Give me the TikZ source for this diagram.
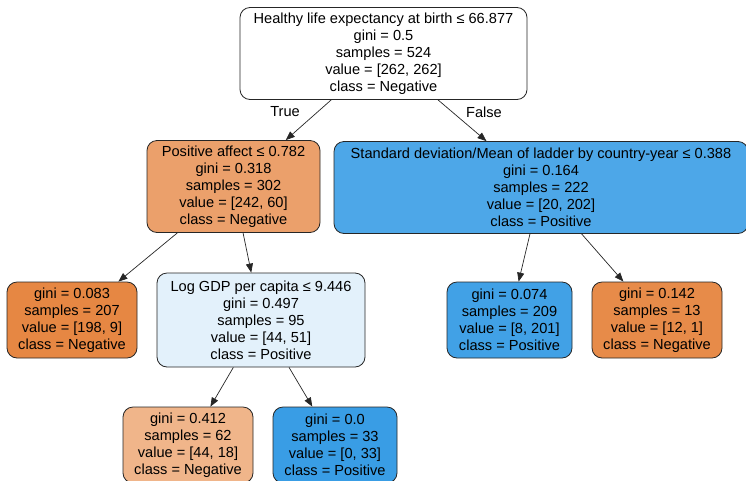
\documentclass[tikz,border=0pt]{standalone}
\usepackage{fontspec}
\setmainfont{Liberation Sans}
\usetikzlibrary{arrows.meta, positioning}

\definecolor{negclass}{RGB}{229,129,57}
\definecolor{posclass}{RGB}{57,157,229}

\begin{document}
\begin{tikzpicture}[
    x=1pt, y=-1pt,
    >={Triangle[length=9pt, width=7pt]},
    treenode/.style={rectangle, rounded corners=10pt, draw=black!85, line width=0.8pt, align=center, inner sep=0pt, font=\fontsize{14.6}{17}\selectfont},
    split/.style={treenode, minimum height=92pt},
    leaf/.style={treenode, minimum height=76pt},
    arrow/.style={->, line width=0.7pt, draw=black!85},
    branch/.style={font=\fontsize{14.6}{17}\selectfont}
]

\useasboundingbox (0,0) rectangle (746,480);
\clip (0,0) rectangle (746,480);

% ==================== Root ====================
\node[split, minimum width=287pt, fill=white] (Root) at (383.5,53.5) {Healthy life expectancy at birth ≤ 66.877\\gini = 0.5\\samples = 524\\value = [262, 262]\\class = Negative};

% ==================== Depth 1 ====================
\node[split, minimum width=173pt, fill=negclass!75!white] (PosAffect) at (233.5,186.5) {Positive affect ≤ 0.782\\gini = 0.318\\samples = 302\\value = [242, 60]\\class = Negative};
\node[split, minimum width=414pt, fill=posclass!90!white] (StdLadder) at (541,187.5) {Standard deviation/Mean of ladder by country-year ≤ 0.388\\gini = 0.164\\samples = 222\\value = [20, 202]\\class = Positive};

\node[branch] (TrueLbl) at (285,112) {True};
\node[branch] (FalseLbl) at (484,112) {False};

\draw[arrow] (Root) -- (PosAffect);
\draw[arrow] (Root) -- (StdLadder);

% ==================== Depth 2 ====================
\node[leaf, minimum width=130pt, fill=negclass!95!white] (LeafA) at (72,320) {gini = 0.083\\samples = 207\\value = [198, 9]\\class = Negative};
\node[split, minimum width=208pt, minimum height=94pt, fill=posclass!14!white] (LogGDP) at (261,320) {Log GDP per capita ≤ 9.446\\gini = 0.497\\samples = 95\\value = [44, 51]\\class = Positive};
\node[leaf, minimum width=125pt, fill=posclass!96!white] (LeafB) at (509.5,320) {gini = 0.074\\samples = 209\\value = [8, 201]\\class = Positive};
\node[leaf, minimum width=130pt, fill=negclass!92!white] (LeafC) at (657,320) {gini = 0.142\\samples = 13\\value = [12, 1]\\class = Negative};

\draw[arrow] (PosAffect) -- (LeafA);
\draw[arrow] (PosAffect) -- (LogGDP);
\draw[arrow] (StdLadder) -- (LeafB);
\draw[arrow] (StdLadder) -- (LeafC);

% ==================== Depth 3 ====================
\node[leaf, minimum width=130pt, fill=negclass!59!white] (LeafD) at (188,445) {gini = 0.412\\samples = 62\\value = [44, 18]\\class = Negative};
\node[leaf, minimum width=124pt, fill=posclass] (LeafE) at (335,445) {gini = 0.0\\samples = 33\\value = [0, 33]\\class = Positive};

\draw[arrow] (LogGDP) -- (LeafD);
\draw[arrow] (LogGDP) -- (LeafE);

\end{tikzpicture}
\end{document}
